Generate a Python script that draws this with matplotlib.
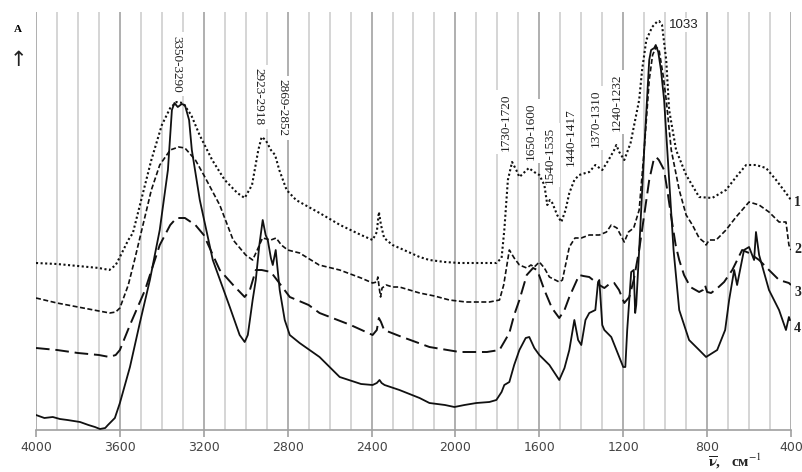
import matplotlib
matplotlib.use("Agg")
import matplotlib.pyplot as plt
import numpy as np

# IR spectra, absorbance in arbitrary units (curves offset as in the figure)
wn1 = [4000, 3900, 3800, 3700, 3650, 3620, 3600, 3560, 3538, 3490, 3450, 3400, 3360, 3330, 3300,
       3260, 3220, 3160, 3100, 3040, 3005, 2970, 2940, 2924, 2905, 2880, 2860, 2840, 2805, 2760,
       2700, 2648, 2550, 2450, 2395, 2375, 2365, 2355, 2340, 2300, 2267, 2171, 2124, 2050, 1981,
       1900, 1805, 1780, 1767, 1750, 1730, 1710, 1695, 1670, 1650, 1625, 1600, 1576, 1562, 1550,
       1538, 1515, 1495, 1475, 1457, 1433, 1410, 1380, 1362, 1333, 1300, 1270, 1243, 1233, 1219,
       1195, 1165, 1124, 1110, 1090, 1062, 1040, 1029, 1015, 995, 981, 948, 900, 838, 776,
       710, 662, 614, 567, 519, 471, 424, 400]
a1 = [1.67, 1.66, 1.64, 1.62, 1.60, 1.65, 1.73, 1.90, 1.97, 2.37, 2.70, 3.05, 3.22, 3.28, 3.27,
      3.15, 2.95, 2.70, 2.50, 2.37, 2.32, 2.45, 2.80, 2.93, 2.90, 2.80, 2.75, 2.60, 2.40, 2.30,
      2.23, 2.17, 2.05, 1.95, 1.90, 1.98, 2.18, 2.05, 1.92, 1.85, 1.82, 1.73, 1.70, 1.68, 1.67,
      1.67, 1.67, 1.72, 2.00, 2.50, 2.68, 2.60, 2.53, 2.58, 2.62, 2.58, 2.55, 2.45, 2.25, 2.30,
      2.27, 2.15, 2.08, 2.20, 2.37, 2.50, 2.55, 2.57, 2.58, 2.65, 2.60, 2.70, 2.80, 2.85, 2.78,
      2.70, 2.87, 3.30, 3.60, 3.90, 4.03, 4.08, 4.09, 4.05, 3.70, 3.20, 2.80, 2.55, 2.33, 2.32,
      2.40, 2.53, 2.65, 2.65, 2.62, 2.50, 2.37, 2.30]

wn2 = [4000, 3900, 3800, 3700, 3648, 3620, 3600, 3560, 3530, 3490, 3450, 3410, 3360, 3320, 3290,
       3240, 3200, 3124, 3060, 3000, 2967, 2945, 2920, 2880, 2855, 2830, 2800, 2743, 2650, 2552,
       2450, 2395, 2375, 2370, 2362, 2357, 2350, 2330, 2300, 2267, 2171, 2100, 2029, 1950, 1838,
       1790, 1770, 1743, 1720, 1695, 1660, 1640, 1624, 1600, 1576, 1552, 1505, 1490, 1457, 1430,
       1400, 1362, 1314, 1280, 1257, 1230, 1195, 1175, 1150, 1124, 1100, 1076, 1060, 1043, 1029,
       1010, 995, 971, 933, 900, 870, 838, 815, 805, 790, 757, 710, 662, 633, 600,
       552, 505, 457, 424, 410, 400]
a2 = [1.32, 1.27, 1.23, 1.19, 1.17, 1.18, 1.22, 1.45, 1.70, 2.05, 2.40, 2.65, 2.80, 2.83, 2.82,
      2.70, 2.55, 2.25, 1.90, 1.75, 1.70, 1.80, 1.92, 1.90, 1.92, 1.85, 1.80, 1.77, 1.65, 1.60,
      1.52, 1.47, 1.48, 1.53, 1.40, 1.33, 1.42, 1.45, 1.43, 1.43, 1.37, 1.34, 1.30, 1.28, 1.28,
      1.30, 1.45, 1.80, 1.72, 1.65, 1.62, 1.65, 1.63, 1.68, 1.62, 1.53, 1.48, 1.50, 1.83, 1.92,
      1.92, 1.95, 1.95, 1.98, 2.05, 2.02, 1.88, 1.98, 2.02, 2.20, 2.80, 3.50, 3.75, 3.83, 3.80,
      3.55, 3.30, 2.80, 2.40, 2.15, 2.05, 1.92, 1.88, 1.85, 1.90, 1.90, 2.00, 2.13, 2.20, 2.28,
      2.25, 2.18, 2.08, 2.08, 1.85, 1.80]

wn3 = [4000, 3900, 3800, 3700, 3650, 3620, 3600, 3552, 3480, 3410, 3360, 3330, 3290, 3240, 3200,
       3124, 3060, 3005, 2980, 2952, 2924, 2880, 2840, 2790, 2700, 2648, 2500, 2395, 2375, 2365,
       2355, 2340, 2267, 2124, 1981, 1850, 1790, 1743, 1720, 1695, 1660, 1630, 1610, 1576, 1540,
       1505, 1480, 1457, 1410, 1390, 1362, 1314, 1290, 1260, 1243, 1220, 1195, 1171, 1150, 1124,
       1100, 1076, 1055, 1043, 1030, 1005, 990, 971, 950, 933, 910, 880, 838, 820, 810,
       800, 781, 750, 719, 680, 633, 600, 552, 505, 457, 410, 400]
a3 = [0.82, 0.80, 0.77, 0.75, 0.73, 0.75, 0.80, 1.05, 1.40, 1.85, 2.05, 2.12, 2.12, 2.05, 1.95,
      1.60, 1.45, 1.33, 1.40, 1.60, 1.60, 1.58, 1.47, 1.33, 1.25, 1.17, 1.05, 0.95, 1.00, 1.12,
      1.08, 1.00, 0.94, 0.83, 0.78, 0.78, 0.80, 0.97, 1.15, 1.30, 1.55, 1.62, 1.60, 1.40, 1.22,
      1.12, 1.20, 1.33, 1.55, 1.54, 1.53, 1.45, 1.42, 1.47, 1.47, 1.40, 1.27, 1.33, 1.50, 1.80,
      2.15, 2.50, 2.70, 2.73, 2.70, 2.60, 2.40, 2.13, 1.85, 1.70, 1.55, 1.43, 1.38, 1.40, 1.45,
      1.38, 1.37, 1.42, 1.48, 1.60, 1.80, 1.77, 1.70, 1.60, 1.50, 1.47, 1.45]

wn4 = [4000, 3960, 3920, 3886, 3850, 3790, 3750, 3719, 3695, 3670, 3657, 3624, 3600, 3552, 3505,
       3457, 3410, 3371, 3352, 3340, 3324, 3305, 3290, 3270, 3257, 3219, 3157, 3076, 3029, 3005,
       2990, 2967, 2952, 2935, 2919, 2905, 2895, 2880, 2871, 2857, 2850, 2838, 2814, 2790, 2743,
       2648, 2552, 2450, 2395, 2375, 2362, 2352, 2338, 2267, 2171, 2124, 2050, 2005, 1957, 1900,
       1838, 1805, 1780, 1767, 1743, 1720, 1695, 1665, 1648, 1624, 1600, 1552, 1505, 1480, 1457,
       1433, 1415, 1400, 1380, 1362, 1333, 1320, 1314, 1300, 1290, 1257, 1219, 1200, 1190, 1181,
       1162, 1150, 1143, 1138, 1124, 1100, 1076, 1067, 1052, 1045, 1033, 1020, 1005, 981, 960,
       933, 886, 838, 805, 752, 714, 695, 671, 657, 624, 600, 576, 567, 552, 505,
       457, 424, 410, 405]
a4 = [0.15, 0.12, 0.13, 0.11, 0.10, 0.08, 0.05, 0.03, 0.01, 0.02, 0.05, 0.12, 0.27, 0.63, 1.07,
      1.50, 2.00, 2.60, 3.20, 3.27, 3.23, 3.26, 3.25, 3.10, 2.80, 2.30, 1.70, 1.23, 0.95, 0.88,
      0.95, 1.30, 1.50, 1.85, 2.10, 1.95, 1.90, 1.72, 1.65, 1.80, 1.65, 1.40, 1.10, 0.95, 0.87,
      0.73, 0.53, 0.46, 0.45, 0.47, 0.50, 0.47, 0.45, 0.40, 0.32, 0.27, 0.25, 0.23, 0.25, 0.27,
      0.28, 0.30, 0.38, 0.45, 0.48, 0.65, 0.80, 0.92, 0.93, 0.82, 0.75, 0.65, 0.50, 0.62, 0.80,
      1.10, 0.90, 0.85, 1.10, 1.17, 1.20, 1.48, 1.50, 1.05, 1.00, 0.93, 0.73, 0.63, 0.63, 1.00,
      1.58, 1.60, 1.17, 1.25, 1.80, 2.80, 3.70, 3.80, 3.82, 3.85, 3.78, 3.60, 3.30, 2.50, 1.80,
      1.20, 0.90, 0.80, 0.73, 0.80, 1.00, 1.30, 1.60, 1.45, 1.80, 1.83, 1.70, 1.98, 1.75, 1.40,
      1.20, 1.00, 1.13, 1.10]

series = [(wn1, a1, dict(linestyle=(0, (1, 1.2)), lw=1.5)),
          (wn2, a2, dict(linestyle=(0, (3, 1.5)), lw=1.2)),
          (wn3, a3, dict(linestyle=(0, (7, 3)), lw=1.4)),
          (wn4, a4, dict(linestyle='-', lw=1.3))]
curve_names = ['1', '2', '3', '4']
name_y = [2.27, 1.80, 1.37, 1.02]

bands = ['3350-3290', '2923-2918', '2869-2852', '1730-1720', '1650-1600',
         '1540-1535', '1440-1417', '1370-1310', '1240-1232']
band_x = [3329, 2938, 2824, 1762, 1643, 1548, 1452, 1333, 1229]
band_y = [3.66, 3.33, 3.22, 3.08, 2.99, 2.75, 2.93, 3.12, 3.28]
band_rot = [-90, -90, -90, 90, 90, 90, 90, 90, 90]

fig = plt.figure(figsize=(8.03, 4.72), dpi=100)
ax = fig.add_axes([36 / 803, 42 / 472, 755 / 803, 418 / 472])

for x in range(400, 4001, 100):
    c = '#a9a9a9' if x % 400 == 0 else '#d2d2d2'
    ax.axvline(x, color=c, lw=1.3, zorder=0.5)

for wn, a, st in series:
    ax.plot(wn, a, color='#111111', zorder=3, **st)

for t, x, y, r in zip(bands, band_x, band_y, band_rot):
    ax.text(x, y, t, rotation=r, ha='center', va='center', fontsize=9.5,
            family='Liberation Serif', color='#222222', zorder=1,
            bbox=dict(facecolor='white', edgecolor='none', pad=2.5))
ax.text(981, 4.05, '1033', ha='left', va='center', fontsize=9.5,
        family='Liberation Sans', color='#222222', zorder=1,
        bbox=dict(facecolor='white', edgecolor='none', pad=1))

for n, y in zip(curve_names, name_y):
    ax.text(368, y, n, ha='center', va='center', fontsize=10, family='Liberation Serif',
            fontweight='bold', color='#222222', clip_on=False)

ax.set_xlim(4000, 400)
ax.set_ylim(0, 4.18)
ax.set_xticks(range(4000, 399, -400))
ax.set_yticks([])
for s in ['top', 'right', 'left']:
    ax.spines[s].set_visible(False)
ax.spines['bottom'].set_color('#a0a0a0')
ax.spines['bottom'].set_linewidth(1.2)
ax.tick_params(axis='x', direction='out', length=5, width=1.2, color='#a0a0a0',
               labelsize=9, labelcolor='#444444', pad=3)

fig.text(18 / 803, 1 - 30 / 472, 'A', ha='center', va='center', fontsize=8,
         family='Liberation Serif', fontweight='bold')
fig.text(18 / 803, 1 - 60 / 472, '\u2191', ha='center', va='center', fontsize=15,
         family='DejaVu Sans', color='#222222')
plt.rcParams['mathtext.fontset'] = 'stix'
fig.text(708 / 803, 1 - 461 / 472, r'$\mathbf{\overline{\nu}}$,   см$^{-1}$', ha='left',
         va='center', fontsize=11, family='Liberation Serif', fontweight='bold',
         color='#222222')

fig.savefig('out.png', dpi=100)
